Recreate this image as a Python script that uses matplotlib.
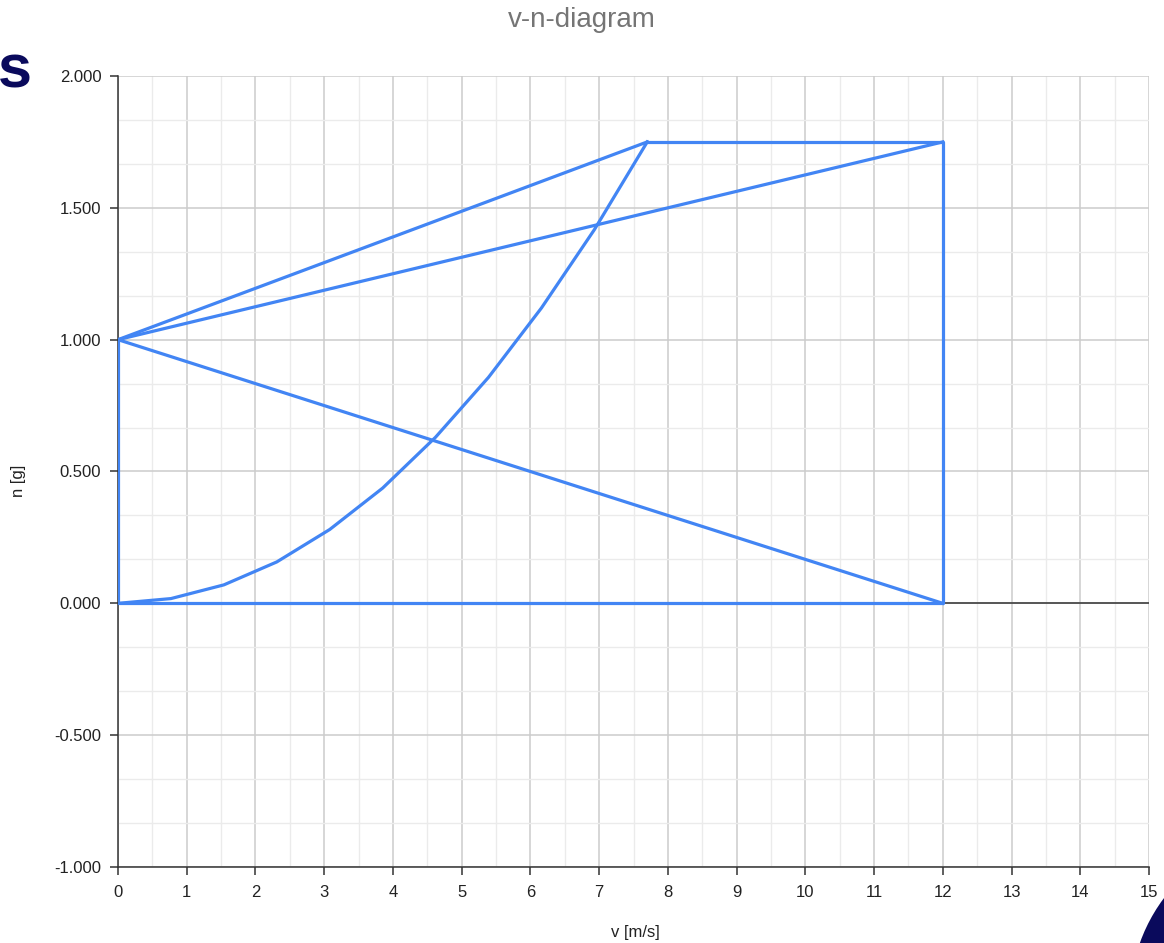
import matplotlib
matplotlib.use("Agg")
import matplotlib.pyplot as plt
from matplotlib.patches import Circle
from matplotlib.transforms import IdentityTransform
from matplotlib.ticker import MultipleLocator, FormatStrFormatter

plt.rcParams['font.family'] = ['Liberation Sans', 'DejaVu Sans']

# stall boundary n = (v / v_s)^2
stall_v = [0.0, 0.77, 1.54, 2.31, 3.08, 3.85, 4.62, 5.39, 6.16, 6.93, 7.70]
stall_n = [0.0, 0.018, 0.07, 0.157, 0.28, 0.437, 0.63, 0.857, 1.12, 1.417, 1.75]

# manoeuvre envelope: top, dive-speed edge, zero line, back to 1 g
envelope_v = [7.70, 12.0, 12.0, 0.0, 0.0]
envelope_n = [1.75, 1.75, 0.0, 0.0, 1.0]

# gust lines from the 1 g point
gust_start_v, gust_start_n = 0.0, 1.0
gust_end_v = [7.70, 12.0, 12.0]
gust_end_n = [1.75, 1.75, 0.0]

x_min, x_max = 0, 15
y_min, y_max = -1.0, 2.0

LINE = '#4285f4'
LW = 2.3
W, H, DPI = 1164, 943, 100

fig = plt.figure(figsize=(W / DPI, H / DPI), dpi=DPI)
ax = fig.add_axes([118 / W, 1 - 867 / H, (1149 - 118) / W, (867 - 76) / H])

ax.set_xlim(x_min, x_max)
ax.set_ylim(y_min, y_max)

ax.xaxis.set_major_locator(MultipleLocator(1))
ax.xaxis.set_minor_locator(MultipleLocator(0.5))
ax.yaxis.set_major_locator(MultipleLocator(0.5))
ax.yaxis.set_minor_locator(MultipleLocator(0.5 / 3))
ax.yaxis.set_major_formatter(FormatStrFormatter('%.3f'))

ax.grid(which='major', color='#cccccc', linewidth=1.1)
ax.grid(which='minor', color='#ebebeb', linewidth=1.0)
ax.set_axisbelow(True)

for s in ('top', 'right'):
    ax.spines[s].set_visible(False)
for s in ('left', 'bottom'):
    ax.spines[s].set_color('#333333')
    ax.spines[s].set_linewidth(1.1)

ax.tick_params(which='major', length=6, width=1.1, color='#333333',
               labelsize=12, labelcolor='#222222', pad=6)
ax.tick_params(which='minor', length=0)
ax.tick_params(axis='x', pad=7)

# zero baseline
ax.axhline(0, color='#333333', linewidth=1.1, zorder=2)

ax.plot(stall_v, stall_n, color=LINE, linewidth=LW, zorder=3,
        solid_joinstyle='round')
ax.plot(envelope_v, envelope_n, color=LINE, linewidth=LW, zorder=3,
        solid_joinstyle='round')
for ev, en in zip(gust_end_v, gust_end_n):
    ax.plot([gust_start_v, ev], [gust_start_n, en], color=LINE,
            linewidth=LW, zorder=3)

# axis titles and chart title
fig.text(635 / W, 1 - 932 / H, 'v [m/s]', ha='center', va='center',
         fontsize=12, color='#222222')
fig.text(19 / W, 1 - 481 / H, 'n [g]', ha='center', va='center',
         rotation=90, fontsize=12, color='#222222')
fig.text(0.5, 1 - 27 / H, 'v-n-diagram', ha='center', va='baseline',
         fontsize=20, color='#757575')

# page decorations around the chart
fig.text(-2 / W, 1 - 72 / H, 's', ha='left', va='center', fontsize=44,
         fontweight='bold', color='#0a0a5c')
fig.patches.append(Circle((1300, H - 1000), 170, transform=IdentityTransform(),
                          facecolor='#0a0a5c', edgecolor='none'))

fig.savefig('out.png', dpi=DPI)
